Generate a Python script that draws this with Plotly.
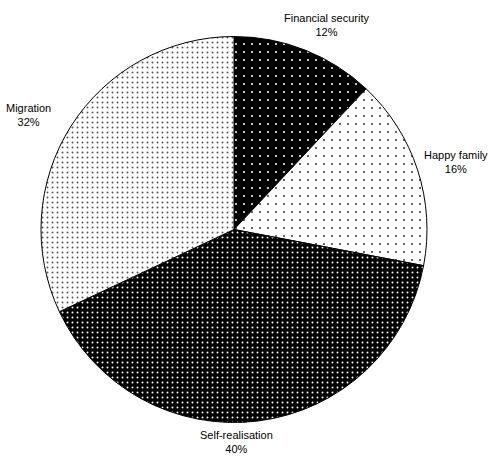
import plotly.graph_objects as go

labels = ["Financial security", "Happy family", "Self-realisation", "Migration"]
values = [12, 16, 40, 32]

bg_colors = ["#000000", "#ffffff", "#000000", "#ffffff"]
fg_colors = ["#ffffff", "#333333", "#ffffff", "#555555"]
pattern_sizes = [8, 8, 5, 5]
solidities = [0.05, 0.05, 0.12, 0.12]

# label block centres (layout, in pixels from top-left)
label_pos = [(326, 25), (456, 162), (236, 442), (28, 115)]

W, H = 496, 457

fig = go.Figure(go.Pie(
    labels=labels,
    values=values,
    sort=False,
    direction="clockwise",
    rotation=0,
    textinfo="none",
    marker=dict(
        colors=bg_colors,
        line=dict(color="#000000", width=1),
        pattern=dict(
            shape=".",
            fillmode="replace",
            bgcolor=bg_colors,
            fgcolor=fg_colors,
            size=pattern_sizes,
            solidity=solidities,
        ),
    ),
    domain=dict(x=[41/W, 427/W], y=[34/H, 421/H]),
    showlegend=False,
    hoverinfo="skip",
))

total = sum(values)
for lab, val, (px, py) in zip(labels, values, label_pos):
    fig.add_annotation(
        x=px / W, y=1 - py / H, xref="paper", yref="paper",
        xanchor="center", yanchor="middle",
        text=f"{lab}<br>{round(100*val/total)}%",
        showarrow=False, align="center",
        font=dict(family="Liberation Sans, Arial", size=11, color="#000000"),
    )

fig.update_layout(
    width=W, height=H,
    margin=dict(l=0, r=0, t=0, b=0),
    paper_bgcolor="#ffffff",
    plot_bgcolor="#ffffff",
    showlegend=False,
)

fig.write_html("out.html")
